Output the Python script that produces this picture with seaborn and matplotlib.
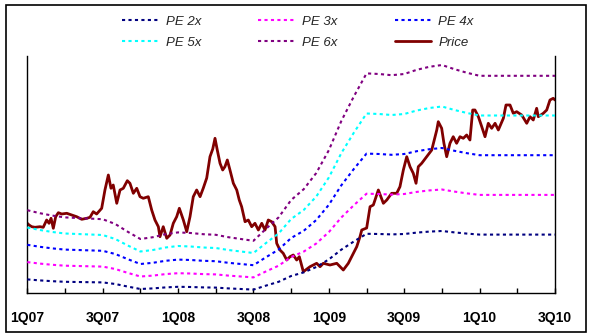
import numpy as np
import pandas as pd
import matplotlib
matplotlib.use("Agg")
import matplotlib.pyplot as plt
import seaborn as sns
from matplotlib.patches import Rectangle
from matplotlib.lines import Line2D

# ---------------- data ----------------
# time axis in months since 1 Jan 2007
tick_months = [0, 6, 12, 18, 24, 30, 36, 42]
tick_labels = ["1Q07", "3Q07", "1Q08", "3Q08", "1Q09", "3Q09", "1Q10", "3Q10"]
minor_months = [3, 9, 15, 21, 27, 33, 39]

eps_months = list(range(0, 43))
eps_values = [1.73, 1.68, 1.64, 1.61, 1.60, 1.59, 1.58, 1.50, 1.37, 1.25,
              1.28, 1.33, 1.36, 1.35, 1.33, 1.32, 1.28, 1.25, 1.22, 1.42,
              1.61, 1.90, 2.08, 2.35, 2.73, 3.22, 3.63, 4.01, 4.00, 3.98,
              4.00, 4.07, 4.12, 4.15, 4.08, 4.02, 3.97, 3.97, 3.97, 3.97,
              3.97, 3.97, 3.97]

band_labels = ["PE 2x", "PE 3x", "PE 4x", "PE 5x", "PE 6x"]
band_multiples = [2, 3, 4, 5, 6]
band_colors = ["#000080", "#FF00FF", "#0000FF", "#00FFFF", "#800080"]

price_months = [0.00, 0.14, 0.35, 0.61, 1.01, 1.27, 1.54, 1.73, 1.89, 2.07,
                2.26, 2.47, 2.74, 3.14, 3.53, 3.93, 4.33, 4.73, 4.99, 5.25,
                5.52, 5.92, 6.18, 6.45, 6.66, 6.84, 7.12, 7.38, 7.64, 7.96,
                8.17, 8.44, 8.71, 8.97, 9.23, 9.63, 9.90, 10.16, 10.43, 10.56,
                10.82, 11.10, 11.36, 11.62, 11.89, 12.10, 12.42, 12.69, 12.95, 13.21,
                13.48, 13.75, 14.01, 14.28, 14.54, 14.76, 14.94, 15.12, 15.34, 15.55,
                15.73, 15.92, 16.13, 16.40, 16.67, 16.87, 17.06, 17.33, 17.59, 17.86,
                18.12, 18.39, 18.66, 18.92, 19.18, 19.45, 19.72, 19.85, 20.11, 20.37,
                20.65, 20.91, 21.17, 21.44, 21.65, 21.97, 22.50, 23.03, 23.30, 23.56,
                24.09, 24.63, 25.15, 25.55, 25.95, 26.22, 26.48, 26.62, 27.01, 27.28,
                27.54, 27.94, 28.34, 28.61, 29.00, 29.40, 29.66, 29.93, 30.20, 30.46,
                30.72, 30.94, 31.12, 31.39, 31.79, 32.19, 32.59, 32.71, 32.98, 33.16,
                33.38, 33.64, 33.90, 34.17, 34.44, 34.70, 34.97, 35.23, 35.45, 35.63,
                35.90, 36.17, 36.43, 36.69, 36.96, 37.23, 37.49, 37.89, 38.10, 38.42,
                38.68, 38.95, 39.35, 39.75, 40.01, 40.27, 40.54, 40.67, 41.07, 41.34,
                41.60, 41.86, 42.00]
price_values = [9.07, 8.90, 8.73, 8.67, 8.73, 8.67, 9.40, 9.07, 9.57, 8.57,
                9.73, 10.13, 10.00, 10.07, 9.90, 9.73, 9.47, 9.57, 9.67, 10.23,
                10.00, 10.57, 12.40, 13.90, 12.57, 12.90, 11.07, 12.40, 12.57, 13.33,
                13.07, 12.07, 12.57, 11.73, 11.57, 11.73, 10.40, 9.40, 8.73, 7.73,
                8.73, 7.57, 7.90, 9.07, 9.73, 10.57, 9.40, 8.23, 9.73, 11.73,
                12.40, 11.73, 12.60, 13.60, 15.73, 16.50, 17.57, 16.40, 15.07, 14.40,
                14.73, 15.40, 14.40, 13.07, 12.40, 11.40, 10.73, 9.23, 9.40, 8.73,
                9.07, 8.40, 9.07, 8.40, 9.40, 9.23, 8.73, 7.07, 6.40, 6.07,
                5.40, 5.73, 5.90, 5.40, 5.73, 4.23, 4.73, 5.07, 4.73, 5.07,
                4.90, 5.07, 4.40, 5.07, 6.07, 6.73, 7.73, 8.40, 8.60, 10.73,
                10.90, 12.40, 11.07, 11.40, 12.07, 12.07, 12.73, 14.40, 15.73, 14.73,
                14.07, 13.07, 14.73, 15.07, 15.73, 16.40, 18.40, 19.23, 18.57, 17.07,
                15.73, 17.07, 17.73, 17.07, 17.73, 17.57, 17.90, 17.40, 20.40, 20.40,
                19.73, 18.73, 17.73, 19.07, 18.57, 19.07, 18.40, 19.57, 20.90, 20.90,
                20.07, 20.23, 19.90, 19.07, 19.73, 19.40, 20.57, 19.73, 20.07, 20.40,
                21.40, 21.57, 21.40]

# ---------------- plotting ----------------
sns.set_style("white")
plt.rcParams["font.family"] = ["Liberation Sans", "DejaVu Sans"]

W, H = 591, 336
fig = plt.figure(figsize=(W / 100, H / 100), dpi=100)
ax = fig.add_axes([27.3 / W, 1 - 293 / H, (555 - 27.3) / W, (293 - 56) / H])

price_df = pd.DataFrame({"month": price_months, "value": price_values})
sns.lineplot(data=price_df, x="month", y="value", ax=ax, color="#800000",
             linewidth=2.0, estimator=None, sort=False, legend=False, zorder=2)

dots = (0, (1.5, 1.6))
handles = {}
eps = np.array(eps_values)
for lab, mult, col in zip(band_labels, band_multiples, band_colors):
    bdf = pd.DataFrame({"month": eps_months, "value": eps * mult})
    sns.lineplot(data=bdf, x="month", y="value", ax=ax, color=col,
                 linewidth=1.5, linestyle=dots, estimator=None, legend=False, zorder=3)
    handles[lab] = Line2D([], [], color=col, linewidth=1.5, linestyle=dots)
handles["Price"] = Line2D([], [], color="#800000", linewidth=2.0)

ax.set_xlim(0, 42)
ax.set_ylim(2.1, 25.8)
ax.set_xticks(tick_months)
ax.set_xticklabels(tick_labels, fontsize=10, fontweight="bold")
ax.set_xticks(minor_months, minor=True)
ax.set_yticks([])
ax.set_xlabel("")
ax.set_ylabel("")
ax.tick_params(axis="x", which="both", direction="in", length=3.8, width=1.0,
               bottom=True, top=False, pad=13.0, colors="black")
for side in ["left", "right", "bottom"]:
    ax.spines[side].set_visible(True)
    ax.spines[side].set_color("black")
    ax.spines[side].set_linewidth(1.0)
ax.spines["top"].set_visible(False)

order = ["PE 2x", "PE 5x", "PE 3x", "PE 6x", "PE 4x", "Price"]
fig.legend([handles[k] for k in order], order, loc="upper left",
           bbox_to_anchor=(122.0 / W, 1 - 15.5 / H), bbox_transform=fig.transFigure,
           ncol=3, frameon=False, borderpad=0, borderaxespad=0,
           handlelength=2.75, handletextpad=0.55, columnspacing=4.35,
           labelspacing=0.68, prop={"size": 9.5, "style": "italic"})

fig.patches.append(Rectangle((5.5 / W, 1 - 331.5 / H), (585.5 - 5.5) / W, (331.5 - 5.0) / H,
                             transform=fig.transFigure, fill=False,
                             edgecolor="black", linewidth=1.2))

fig.savefig("out.png", dpi=100)
